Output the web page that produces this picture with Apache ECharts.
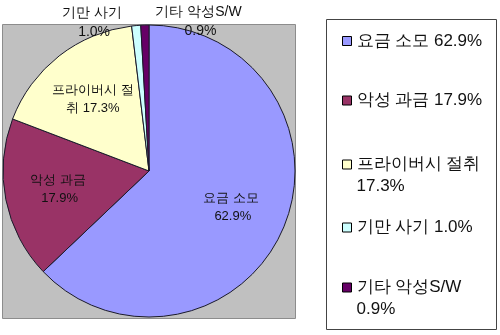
<!DOCTYPE html>
<html><head><meta charset="utf-8">
<script src="https://cdn.jsdelivr.net/npm/echarts@6/dist/echarts.min.js"></script>
<style>html,body{margin:0;padding:0;background:#fff}#c{width:500px;height:335px}</style>
</head><body><div id="c"></div>
<script>
// ---- data ----
const categories = ['요금 소모', '악성 과금', '프라이버시 절취', '기만 사기', '기타 악성S/W'];
const values = [62.9, 17.9, 17.3, 1.0, 0.9];
const colors = ['#9999FF', '#993366', '#FFFFCC', '#CCFFFF', '#660066'];

// ---- layout / style ----
const FONT = 'sans-serif';
const PIE_C = [149, 171], PIE_R = 146;
const labelSide = [0, 0, 0, -1, 1];          // 0 = inside, -1 outside-left, 1 outside-right
const labelWidth = [88, 88, 88, 66, 90];
const legendRowCenter = [41, 100.5, 164.5, 227.5, 287.5];
const legendWrap = [false, false, true, false, true];
const LEG_LH = 22;
const fmt = v => v.toFixed(1) + '%';

const chart = echarts.init(document.getElementById('c'), null, {renderer: 'canvas'});

const legends = categories.map((name, i) => ({
  data: [name], orient: 'vertical', left: 342,
  top: legendRowCenter[i] - (legendWrap[i] ? 1.5 : 0.5) * LEG_LH,
  padding: 0, itemWidth: 9, itemHeight: 9, icon: 'rect',
  itemStyle: {borderColor: '#000', borderWidth: 1},
  selectedMode: false,
  // wrapped items get an empty first line so the marker sits on the first text line
  formatter: n => legendWrap[i] ? '\n' + n + '\n' + fmt(values[i]) : n + ' ' + fmt(values[i]),
  textStyle: {fontFamily: FONT, fontSize: 17, color: '#111', lineHeight: LEG_LH}
}));

const pieData = categories.map((name, i) => {
  const d = {name: name, value: values[i], itemStyle: {color: colors[i]},
             label: {width: labelWidth[i]}};
  if (labelSide[i] !== 0) {
    d.label.position = 'outside';
    d.label.fontSize = 14;
    d.label.lineHeight = 19;
    d.labelLine = {show: false};
  }
  return d;
});

chart.setOption({
  animation: false,
  graphic: [
    {type: 'rect', shape: {x: 2.5, y: 24.5, width: 293, height: 294},
     style: {fill: '#C0C0C0', stroke: '#8c8c8c', lineWidth: 1}, z: 0},
    {type: 'rect', shape: {x: 326.5, y: 19.5, width: 170, height: 310},
     style: {fill: '#fff', stroke: '#444', lineWidth: 1}, z: 0}
  ],
  legend: legends,
  series: [{
    type: 'pie', center: PIE_C, radius: PIE_R, startAngle: 90, clockwise: true,
    avoidLabelOverlap: false, minShowLabelAngle: 0,
    itemStyle: {borderColor: '#1a1a2a', borderWidth: 1},
    emphasis: {disabled: true},
    label: {
      show: true, position: 'inside', color: '#111', fontFamily: FONT, fontSize: 13,
      lineHeight: 18, overflow: 'break', align: 'center',
      formatter: p => p.name + ' ' + fmt(p.value)
    },
    labelLayout: p => {
      const i = p.dataIndex;
      const lr = p.labelRect;
      if (labelSide[i] === 0) {
        const lx = lr.x + lr.width / 2, ly = lr.y + lr.height / 2;
        return {dx: (lx - PIE_C[0]) * 0.2, dy: (ly - PIE_C[1]) * 0.2};
      }
      const r = p.rect;
      const x = labelSide[i] < 0 ? r.x - 4 - lr.width / 2 : r.x + r.width + 4 + lr.width / 2;
      return {x: x, y: r.y - 2.5, align: 'center', verticalAlign: 'middle'};
    },
    data: pieData
  }]
});
</script></body></html>
